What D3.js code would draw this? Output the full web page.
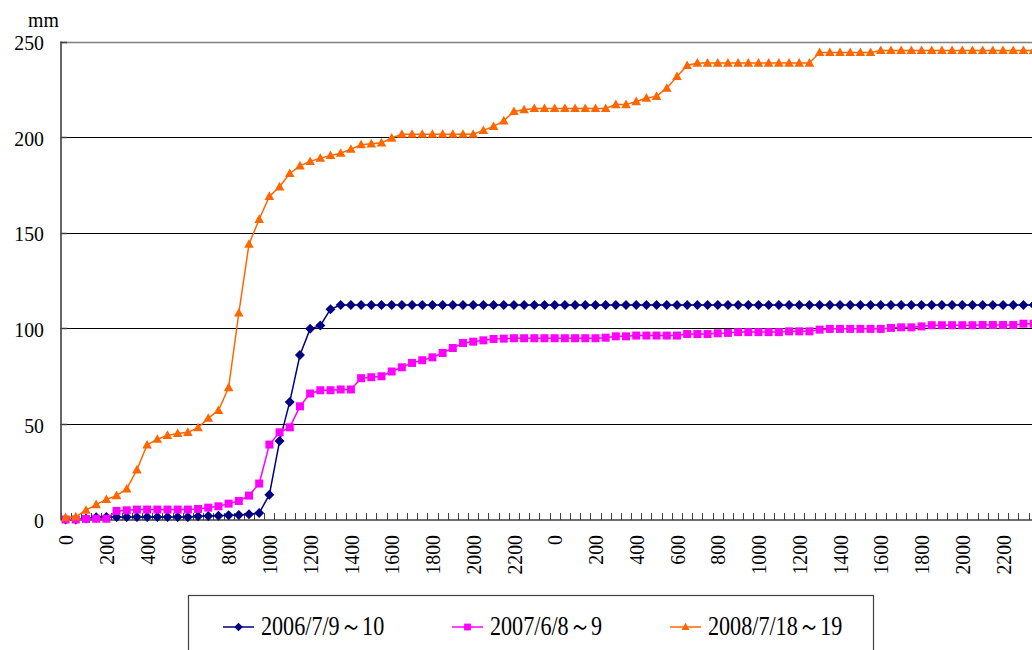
<!DOCTYPE html>
<html><head><meta charset="utf-8">
<script src="https://cdn.jsdelivr.net/npm/d3@7"></script>
<style>html,body{margin:0;padding:0;background:#fff;} svg{display:block;}</style>
</head><body>
<svg id="chart" width="1032" height="650"></svg>
<script>
// ---- data ----
const dayTimes = ["0","30","100","130","200","230","300","330","400","430","500","530",
  "600","630","700","730","800","830","900","930","1000","1030","1100","1130",
  "1200","1230","1300","1330","1400","1430","1500","1530","1600","1630","1700","1730",
  "1800","1830","1900","1930","2000","2030","2100","2130","2200","2230","2300","2330"];
const categories = dayTimes.concat(dayTimes);
const yTicks = [0, 50, 100, 150, 200, 250];
const seriesNames = ["2006/7/9～10", "2007/6/8～9", "2008/7/18～19"];

const s2006 = [0,0,0.5,1.2,1.3,1.3,1.3,1.3,1.3,1.3,1.3,1.3,1.3,1.7,1.8,2.0,2.2,2.4,2.7,3.4,
  13,41,61.5,86,99.7,101.4,110,
  112.2,112.2,112.2,112.2,112.2,112.2,112.2,112.2,112.2,112.2,112.2,112.2,112.2,112.2,112.2,112.2,112.2,112.2,112.2,112.2,112.2,
  112.2,112.2,112.2,112.2,112.2,112.2,112.2,112.2,112.2,112.2,112.2,112.2,112.2,112.2,112.2,112.2,112.2,112.2,112.2,112.2,112.2,
  112.2,112.2,112.2,112.2,112.2,112.2,112.2,112.2,112.2,112.2,112.2,112.2,112.2,112.2,112.2,112.2,112.2,112.2,112.2,112.2,112.2,
  112.2,112.2,112.2,112.2,112.2,112.2];
const s2007 = [0,0,0.3,0.4,0.4,4.5,4.8,5.2,5.2,5.2,5.2,5.2,5.2,5.5,6.2,6.9,8.3,9.7,12.5,18.8,
  39.2,45.6,48.2,59.2,65.9,67.6,67.6,68,68,73.9,74.4,74.9,77.4,79.6,81.9,83.3,84.8,87.1,89.7,92.3,
  93,93.7,94.4,94.6,94.8,94.8,94.8,94.8,
  94.8,94.8,94.8,94.8,94.8,95.1,95.8,95.8,96.2,96.2,96.2,96.2,96.2,97,97,97,97.4,97.6,98,98,98,98,
  98,98.4,98.4,98.4,99.3,99.7,99.7,99.7,99.7,99.7,99.7,100.2,100.5,100.5,101,101.6,101.6,101.6,101.6,101.6,
  101.7,101.7,101.7,101.7,102.4,102.4];
const s2008 = [1,1.4,4.9,7.8,10.5,12.5,16,26,39,42,44,45,45.6,48,53,57,69,108,144,157,
  169,174,181,185,187.3,189,190.4,191.6,193.7,196,196.5,197,199.5,201.5,
  201.5,201.5,201.5,201.5,201.5,201.5,201.5,
  203.5,205.6,208.5,213.4,214.3,215,215,
  215,215,215,215,215,215,
  217,217,218.6,220.4,221.3,225.6,231.7,237.5,
  238.7,238.7,238.7,238.7,238.7,238.7,238.7,238.7,238.7,238.7,238.7,238.7,
  244.3,244.3,244.3,244.3,244.3,244.3,
  245.3,245.3,245.3,245.3,245.3,245.3,245.3,245.3,245.3,245.3,245.3,245.3,245.3,245.3,245.3,245.3];

const seriesColors = ["#000080", "#FF00FF", "#FF6600"];
const seriesMarkers = ["diamond", "square", "triangle"];
const series = [s2006, s2007, s2008];

// ---- drawing ----
const W = 1032, H = 650;
const FONT = "'Liberation Serif','Times New Roman',serif";
const svg = d3.select("#chart");

const x = d3.scaleBand().domain(d3.range(categories.length)).range([60.5, 1038.7]).padding(0);
const y = d3.scaleLinear().domain([0, 250]).range([519.5, 41.5]);
const bw = x.bandwidth();
const cx = i => x(i) + bw / 2;

const markerPath = {
  diamond: "M0,-5L5,0L0,5L-5,0Z",
  square: "M-4,-4L4,-4L4,4L-4,4Z",
  triangle: "M0,-5L4.8,3.6L-4.8,3.6Z"
};

// gridlines
svg.append("g").selectAll("line").data(yTicks.filter(d => d > 0)).join("line")
  .attr("x1", x(0)).attr("x2", W)
  .attr("y1", d => Math.round(y(d)) + 0.5).attr("y2", d => Math.round(y(d)) + 0.5)
  .attr("stroke", d => d === 250 ? "#808080" : "#000").attr("stroke-width", d => d === 250 ? 1.5 : 1);

// y axis line + inner ticks
svg.append("line").attr("x1", 61).attr("x2", 61).attr("y1", y(250)).attr("y2", y(0))
  .attr("stroke", "#404040").attr("stroke-width", 1.6);
svg.append("g").selectAll("line").data(yTicks).join("line")
  .attr("x1", 61).attr("x2", 67)
  .attr("y1", d => Math.round(y(d)) + 0.5).attr("y2", d => Math.round(y(d)) + 0.5)
  .attr("stroke", "#404040").attr("stroke-width", 1.5);

// x axis line + boundary ticks
svg.append("line").attr("x1", 60.5).attr("x2", W).attr("y1", 520).attr("y2", 520)
  .attr("stroke", "#404040").attr("stroke-width", 1.6);
svg.append("g").selectAll("line").data(d3.range(categories.length)).join("line")
  .attr("x1", i => Math.round(x(i)) + 0.5).attr("x2", i => Math.round(x(i)) + 0.5)
  .attr("y1", 520).attr("y2", 513)
  .attr("stroke", "#404040").attr("stroke-width", 1);

// y tick labels
svg.append("g").selectAll("text").data(yTicks).join("text")
  .attr("transform", d => `translate(44,${y(d) + 1}) scale(0.9,1)`)
  .attr("dy", "0.35em").attr("text-anchor", "end")
  .attr("font-family", FONT).attr("font-size", 22).attr("fill", "#000")
  .text(d => d);

// unit label
svg.append("text").attr("transform", "translate(28,27) scale(0.9,1)")
  .attr("font-family", FONT).attr("font-size", 22).attr("fill", "#000").text("mm");

// x tick labels (every 4th category)
svg.append("g").selectAll("text")
  .data(d3.range(categories.length).filter(i => i % 4 === 0)).join("text")
  .attr("transform", i => `translate(${cx(i)},535) rotate(-90) scale(0.9,1)`)
  .attr("dy", "0.35em").attr("text-anchor", "end")
  .attr("font-family", FONT).attr("font-size", 22).attr("fill", "#000")
  .text(i => categories[i]);

// series
const line = d3.line().x((d, i) => cx(i)).y(d => y(d));
series.forEach((vals, k) => {
  const g = svg.append("g");
  g.append("path").attr("d", line(vals)).attr("fill", "none")
    .attr("stroke", seriesColors[k]).attr("stroke-width", 1.5);
  g.selectAll("path.m").data(vals).join("path").attr("class", "m")
    .attr("transform", (d, i) => `translate(${cx(i)},${y(d)})`)
    .attr("d", markerPath[seriesMarkers[k]])
    .attr("fill", seriesColors[k]);
});

// legend
const lg = svg.append("g");
lg.append("rect").attr("x", 188.5).attr("y", 595.5).attr("width", 685).attr("height", 80)
  .attr("fill", "#fff").attr("stroke", "#404040").attr("stroke-width", 1.2);
const legendX = [223, 452, 670];
seriesNames.forEach((name, k) => {
  const lx = legendX[k];
  lg.append("line").attr("x1", lx).attr("x2", lx + 31).attr("y1", 627).attr("y2", 627)
    .attr("stroke", seriesColors[k]).attr("stroke-width", 1.5);
  lg.append("path").attr("transform", `translate(${lx + 15.5},627) scale(0.85)`)
    .attr("d", markerPath[seriesMarkers[k]]).attr("fill", seriesColors[k]);
  lg.append("text").attr("transform", `translate(${lx + 38},635) scale(0.82,1)`)
    .attr("font-family", FONT).attr("font-size", 27).attr("fill", "#000").text(name);
});
</script>
</body></html>
